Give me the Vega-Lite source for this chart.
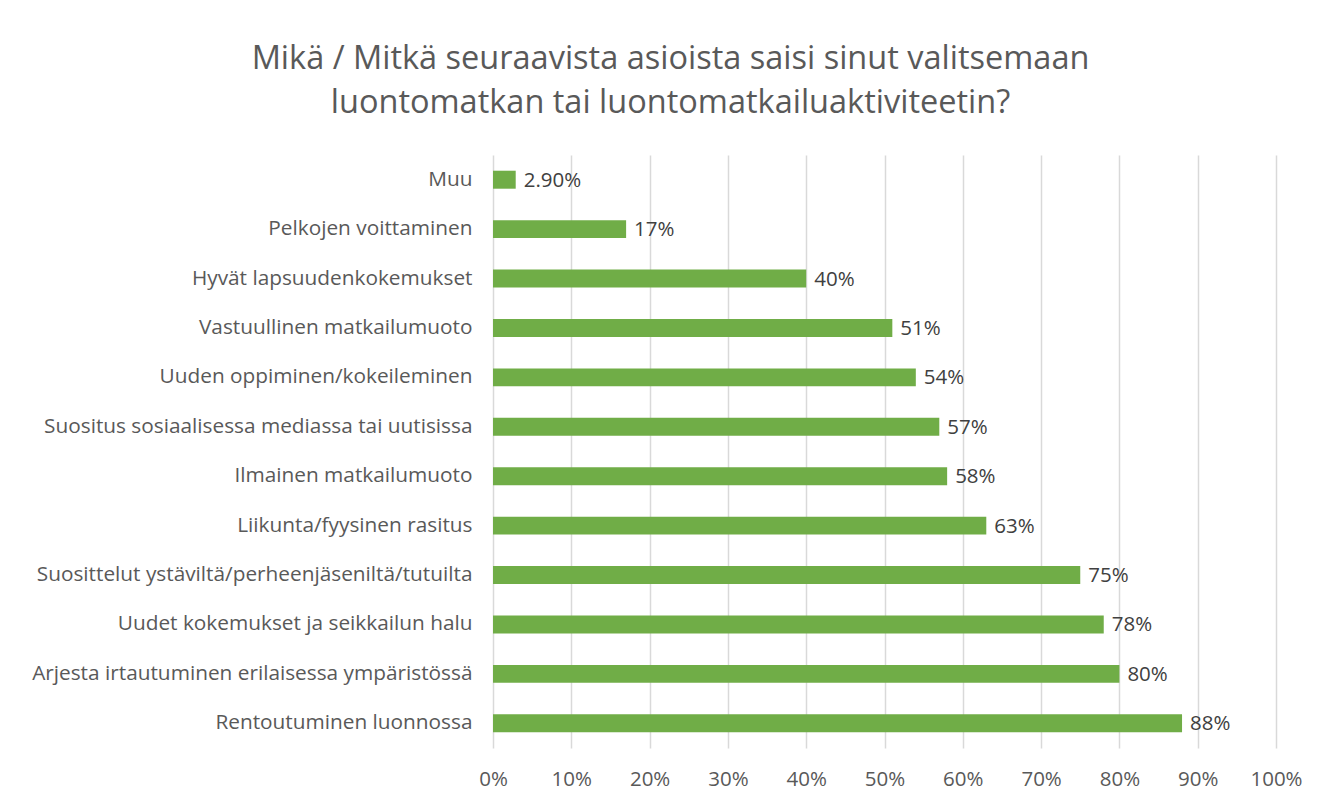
{
  "$schema": "https://vega.github.io/schema/vega-lite/v6.json",
  "width": 783,
  "height": 593,
  "autosize": {"type": "none"},
  "padding": {"left": 493, "top": 155, "right": 60, "bottom": 55},
  "background": "white",
  "title": {
    "text": ["Mikä / Mitkä seuraavista asioista saisi sinut valitsemaan", "luontomatkan tai luontomatkailuaktiviteetin?"],
    "anchor": "middle",
    "frame": "group",
    "dx": -214,
    "font": "Open Sans",
    "fontSize": 32.5,
    "fontWeight": "normal",
    "color": "#595959",
    "lineHeight": 44,
    "offset": 36
  },
  "data": {
    "values": [
      {"kohde": "Muu", "osuus": 2.9, "nimike": "2.90%"},
      {"kohde": "Pelkojen voittaminen", "osuus": 17, "nimike": "17%"},
      {"kohde": "Hyvät lapsuudenkokemukset", "osuus": 40, "nimike": "40%"},
      {"kohde": "Vastuullinen matkailumuoto", "osuus": 51, "nimike": "51%"},
      {"kohde": "Uuden oppiminen/kokeileminen", "osuus": 54, "nimike": "54%"},
      {"kohde": "Suositus sosiaalisessa mediassa tai uutisissa", "osuus": 57, "nimike": "57%"},
      {"kohde": "Ilmainen matkailumuoto", "osuus": 58, "nimike": "58%"},
      {"kohde": "Liikunta/fyysinen rasitus", "osuus": 63, "nimike": "63%"},
      {"kohde": "Suosittelut ystäviltä/perheenjäseniltä/tutuilta", "osuus": 75, "nimike": "75%"},
      {"kohde": "Uudet kokemukset ja seikkailun halu", "osuus": 78, "nimike": "78%"},
      {"kohde": "Arjesta irtautuminen erilaisessa ympäristössä", "osuus": 80, "nimike": "80%"},
      {"kohde": "Rentoutuminen luonnossa", "osuus": 88, "nimike": "88%"}
    ]
  },
  "encoding": {
    "y": {
      "field": "kohde",
      "type": "nominal",
      "sort": null,
      "scale": {"paddingInner": 0.636, "paddingOuter": 0.318},
      "axis": {
        "title": null,
        "domain": false,
        "ticks": false,
        "labelFont": "Open Sans",
        "labelFontSize": 20.8,
        "labelColor": "#595959",
        "labelPadding": 21,
        "labelLimit": 0
      }
    },
    "x": {
      "field": "osuus",
      "type": "quantitative",
      "scale": {"domain": [0, 100], "nice": false},
      "axis": {
        "title": null,
        "values": [0, 10, 20, 30, 40, 50, 60, 70, 80, 90, 100],
        "labelExpr": "datum.value + '%'",
        "labelFlush": false,
        "domain": false,
        "ticks": false,
        "grid": true,
        "gridColor": "#D9D9D9",
        "gridWidth": 1.5,
        "labelFont": "Open Sans",
        "labelFontSize": 20.5,
        "labelColor": "#595959",
        "labelPadding": 21
      }
    }
  },
  "layer": [
    {"mark": {"type": "bar", "color": "#70AD47"}},
    {
      "mark": {"type": "text", "align": "left", "baseline": "middle", "dx": 8, "dy": 1, "font": "Open Sans", "fontSize": 20.5, "color": "#404040"},
      "encoding": {"text": {"field": "nimike"}}
    }
  ],
  "config": {"view": {"stroke": null}}
}
